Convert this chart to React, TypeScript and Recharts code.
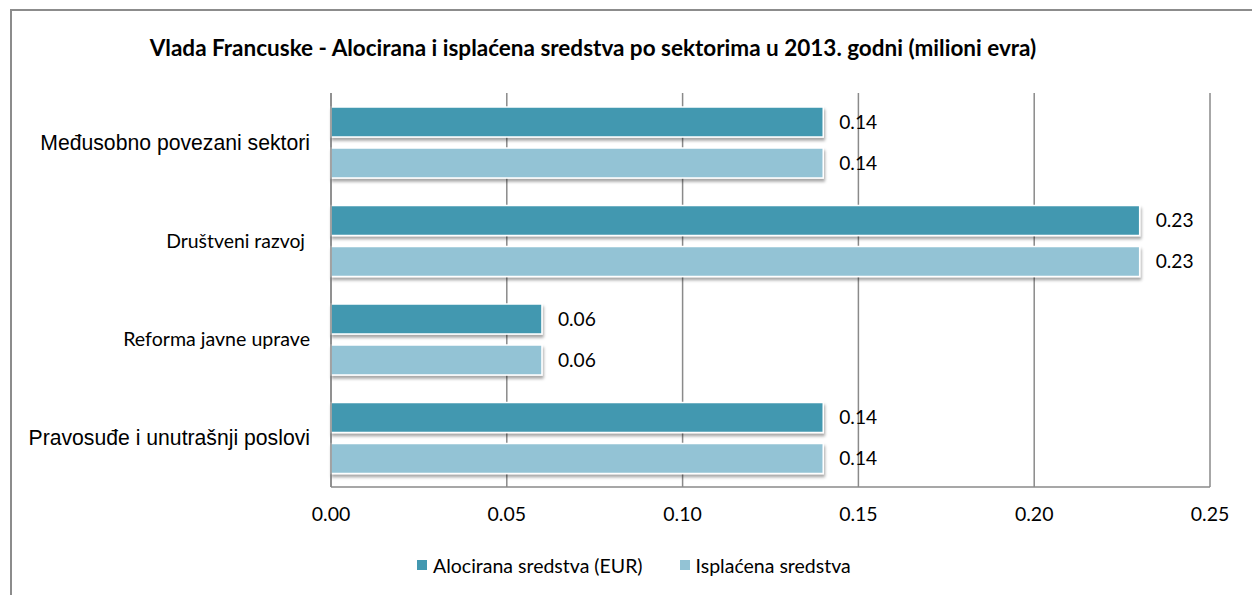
import { BarChart, Bar, XAxis, YAxis, CartesianGrid, LabelList } from 'recharts';

const categories = [
  'Međusobno povezani sektori',
  'Društveni razvoj ',
  'Reforma javne uprave',
  'Pravosuđe i unutrašnji poslovi',
];
const allocated = [0.14, 0.23, 0.06, 0.14];
const disbursed = [0.14, 0.23, 0.06, 0.14];
const xTicks = [0, 0.05, 0.1, 0.15, 0.2, 0.25];
const seriesNames = ['Alocirana sredstva (EUR)', 'Isplaćena sredstva'];

const DARK = '#4398B0';
const LIGHT = '#93C3D5';
const CALIBRI = 'Lato, "Open Sans", sans-serif';
const ARIAL = '"Liberation Sans", Arial, sans-serif';

// the first and last row labels use a different font in the original
const tickFonts = [
  { fontFamily: ARIAL, fontSize: 21.2 },
  { fontFamily: CALIBRI, fontSize: 19.4 },
  { fontFamily: CALIBRI, fontSize: 19.6 },
  { fontFamily: ARIAL, fontSize: 21.2 },
];

const data = categories.map((name, i) => ({
  name,
  allocated: allocated[i],
  disbursed: disbursed[i],
}));

function CategoryTick(props: any) {
  const { x, y, payload, index } = props;
  const f = tickFonts[index] || tickFonts[1];
  return (
    <text x={x} y={y} dy="0.35em" textAnchor="end" fill="#000" style={{ ...f, whiteSpace: 'pre' }}>
      {payload.value}
    </text>
  );
}

const valueLabel = { fontFamily: CALIBRI, fontSize: 19.2, fill: '#000' };

export default function App() {
  return (
    <div style={{ position: 'absolute', left: 0, top: 0, width: 1252, height: 595, background: '#fff', overflow: 'hidden' }}>
      <div
        style={{
          position: 'absolute', left: 10, top: 9, width: 1250, height: 590,
          borderLeft: '2px solid #8c8c8c', borderTop: '2px solid #8c8c8c',
        }}
      />
      <div
        style={{
          position: 'absolute', left: 0, top: 34, width: 1186, textAlign: 'center',
          fontFamily: CALIBRI, fontWeight: 700, fontSize: 22.5, color: '#000', whiteSpace: 'nowrap',
        }}
      >
        Vlada Francuske - Alocirana i isplaćena sredstva po sektorima u 2013. godni (milioni evra)
      </div>
      <BarChart
        width={1252}
        height={595}
        data={data}
        layout="vertical"
        margin={{ top: 93, right: 42, bottom: 78, left: 0 }}
        barCategoryGap={14}
        barGap={11}
        style={{ position: 'absolute', left: 0, top: 0 }}
      >
        <defs>
          <filter id="barShadow" x="-5%" y="-30%" width="110%" height="180%">
            <feDropShadow dx="1" dy="3" stdDeviation="1.5" floodColor="#000" floodOpacity="0.35" />
          </filter>
        </defs>
        <CartesianGrid horizontal={false} stroke="#8a8a8a" strokeWidth={1.5} />
        <XAxis
          type="number"
          domain={[0, 0.25]}
          ticks={xTicks}
          height={30}
          tickFormatter={(v: number) => v.toFixed(2)}
          axisLine={{ stroke: '#8a8a8a', strokeWidth: 1.5 }}
          tickLine={false}
          tickSize={0}
          tickMargin={20}
          tick={{ fontFamily: CALIBRI, fontSize: 19.5, fill: '#000' }}
        />
        <YAxis
          type="category"
          dataKey="name"
          width={331}
          axisLine={{ stroke: '#8a8a8a', strokeWidth: 1.5 }}
          tickLine={false}
          tickSize={0}
          tickMargin={21}
          tick={<CategoryTick />}
          interval={0}
        />
        <Bar
          dataKey="allocated"
          name={seriesNames[0]}
          fill={DARK}
          stroke="#fff"
          strokeWidth={1.5}
          filter="url(#barShadow)"
          isAnimationActive={false}
        >
          <LabelList
            dataKey="allocated"
            position="right"
            offset={16}
            formatter={(v: any) => Number(v).toFixed(2)}
            style={valueLabel}
          />
        </Bar>
        <Bar
          dataKey="disbursed"
          name={seriesNames[1]}
          fill={LIGHT}
          stroke="#fff"
          strokeWidth={1.5}
          filter="url(#barShadow)"
          isAnimationActive={false}
        >
          <LabelList
            dataKey="disbursed"
            position="right"
            offset={16}
            formatter={(v: any) => Number(v).toFixed(2)}
            style={valueLabel}
          />
        </Bar>
      </BarChart>
      <div
        style={{
          position: 'absolute', left: 417, top: 552, height: 26, display: 'flex', alignItems: 'center',
          fontFamily: CALIBRI, fontSize: 19.5, color: '#000', whiteSpace: 'nowrap',
        }}
      >
        {seriesNames.map((n, i) => (
          <div key={n} style={{ display: 'flex', alignItems: 'center', marginRight: i === 0 ? 37 : 0 }}>
            <span style={{ width: 10, height: 10, background: i === 0 ? DARK : LIGHT, marginRight: 6 }} />
            <span>{n}</span>
          </div>
        ))}
      </div>
    </div>
  );
}
